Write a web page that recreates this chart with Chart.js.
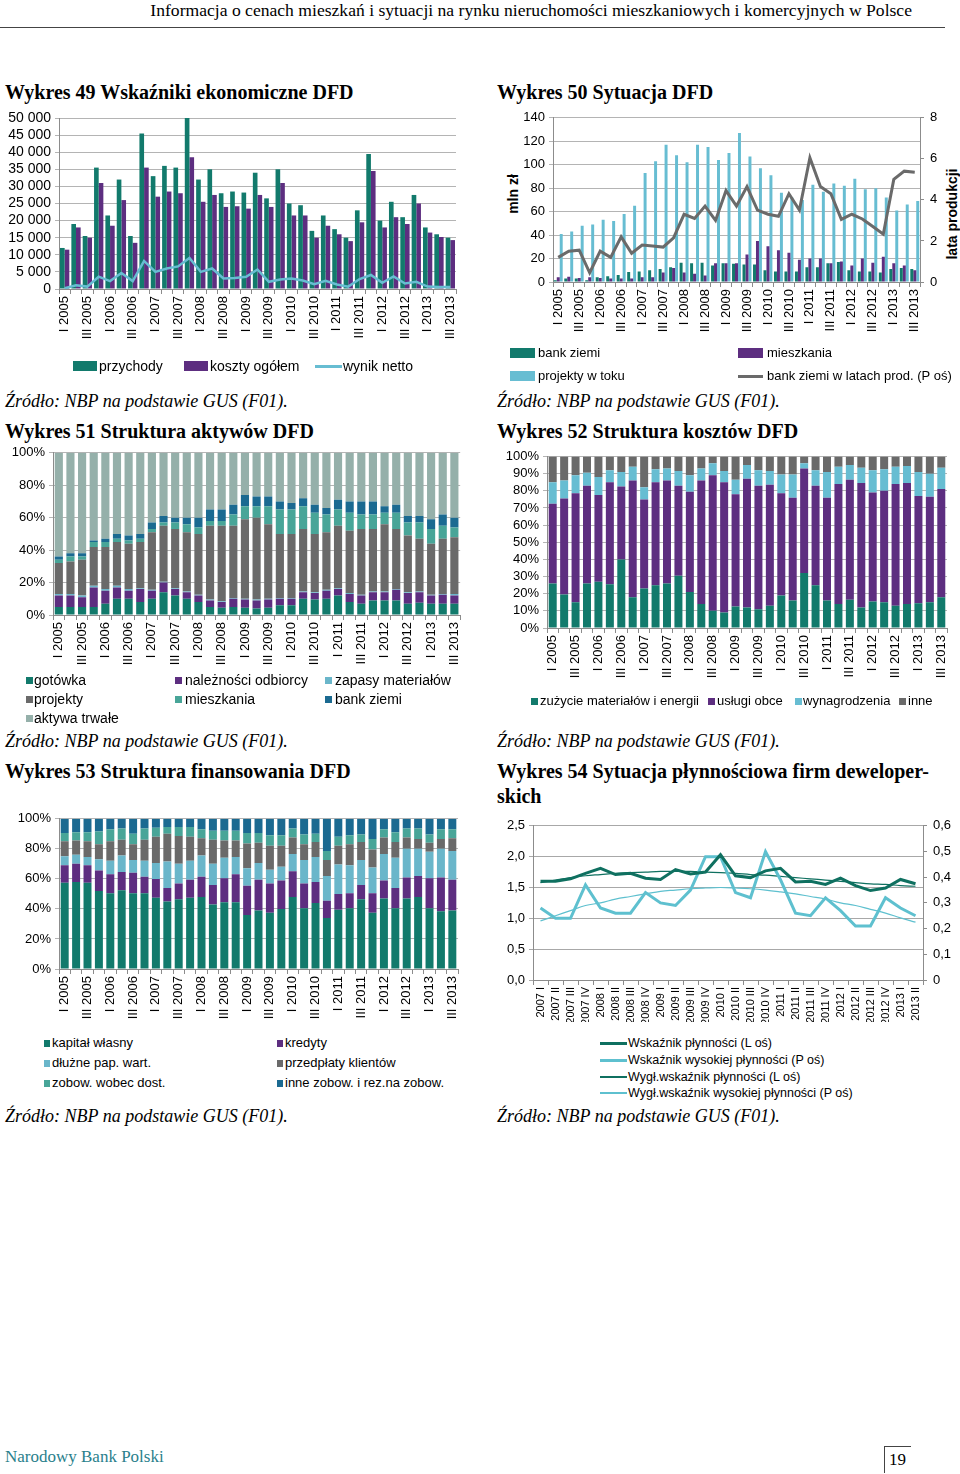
<!DOCTYPE html>
<html lang="pl">
<head>
<meta charset="utf-8">
<title>Wykresy DFD</title>
<script src="https://cdn.jsdelivr.net/npm/chart.js@4.4.1/dist/chart.umd.min.js"></script>
<style>
  body { margin: 0; background: #fff; }
  #page { position: relative; width: 960px; height: 1474px; overflow: hidden; font-family: 'Liberation Sans', Arial, sans-serif; color: #000; }
  .abs { position: absolute; white-space: nowrap; }
  .title { font-family: 'Liberation Serif', serif; font-weight: bold; font-size: 20px; line-height: 25px; }
  .src { font-family: 'Liberation Serif', serif; font-style: italic; font-size: 18px; line-height: 20px; }
  .axt { font-weight: bold; font-size: 14px; transform: rotate(-90deg); transform-origin: center; }
  canvas { position: absolute; }
  .lg { position: absolute; white-space: nowrap; }
  .box { position: absolute; }
</style>
</head>
<body>
<div id="page">
  <div class="abs" style="right:48px; top:0px; font-family:'Liberation Serif',serif; font-size:17.6px; line-height:20px;">Informacja o cenach mieszkań i sytuacji na rynku nieruchomości mieszkaniowych i komercyjnych w Polsce</div>
  <div class="box" style="left:0; top:27px; width:945px; border-top:1px solid #444;"></div>

  <div class="abs title" style="left:5px; top:80px;">Wykres 49 Wskaźniki ekonomiczne DFD</div>
  <div class="abs title" style="left:497px; top:80px;">Wykres 50 Sytuacja DFD</div>
  <div class="abs src" style="left:5px; top:391px;">Źródło: NBP na podstawie GUS (F01).</div>
  <div class="abs src" style="left:497px; top:391px;">Źródło: NBP na podstawie GUS (F01).</div>

  <div class="abs title" style="left:5px; top:419px;">Wykres 51 Struktura aktywów DFD</div>
  <div class="abs title" style="left:497px; top:419px;">Wykres 52 Struktura kosztów DFD</div>
  <div class="abs src" style="left:5px; top:731px;">Źródło: NBP na podstawie GUS (F01).</div>
  <div class="abs src" style="left:497px; top:731px;">Źródło: NBP na podstawie GUS (F01).</div>

  <div class="abs title" style="left:5px; top:759px;">Wykres 53 Struktura finansowania DFD</div>
  <div class="abs title" style="left:497px; top:759px;">Wykres 54 Sytuacja płynnościowa firm deweloper-<br>skich</div>
  <div class="abs src" style="left:5px; top:1106px;">Źródło: NBP na podstawie GUS (F01).</div>
  <div class="abs src" style="left:497px; top:1106px;">Źródło: NBP na podstawie GUS (F01).</div>

  <div class="abs axt" style="left:490px; top:186px; width:46px; text-align:center;">mln zł</div>
  <div class="abs axt" style="left:902px; top:206px; width:100px; text-align:center;">lata produkcji</div>

  <div class="abs" style="left:5px; top:1447px; font-family:'Liberation Serif',serif; font-size:17px; color:#2a7f8c;">Narodowy Bank Polski</div>
  <div class="box" style="left:884px; top:1446px; width:26px; height:26px; border-top:1px solid #444; border-left:1px solid #444;"></div>
  <div class="abs" style="left:889px; top:1450px; font-family:'Liberation Serif',serif; font-size:17px;">19</div>

  <canvas id="c49" width="468" height="239" style="left:0px; top:107px;"></canvas>
  <canvas id="c50" width="463" height="233" style="left:497px; top:104px;"></canvas>
  <canvas id="c51" width="472" height="226" style="left:0px; top:441px;"></canvas>
  <canvas id="c52" width="463" height="237" style="left:497px; top:446px;"></canvas>
  <canvas id="c53" width="470" height="217" style="left:0px; top:807px;"></canvas>
  <canvas id="c54" width="463" height="210" style="left:497px; top:812px;"></canvas>
</div>

<script>
// kwartały 2005-2013
const quarters = ['I 2005','II 2005','III 2005','IV 2005','I 2006','II 2006','III 2006','IV 2006',
  'I 2007','II 2007','III 2007','IV 2007','I 2008','II 2008','III 2008','IV 2008',
  'I 2009','II 2009','III 2009','IV 2009','I 2010','II 2010','III 2010','IV 2010',
  'I 2011','II 2011','III 2011','IV 2011','I 2012','II 2012','III 2012','IV 2012',
  'I 2013','II 2013','III 2013'];

// Wykres 49
const przychody = [12000,19000,15500,35500,21500,32000,15500,45500,33000,36000,35500,50000,32000,35000,28000,28500,28200,34000,26500,35000,25000,24500,17000,21500,17500,15000,23000,39500,20000,25500,21000,27500,18000,16000,15000];
const kosztyOgolem = [11500,18000,15000,31000,18500,26000,13500,35500,27000,28500,28000,38500,25500,27500,24000,24200,23500,27500,24000,31000,21500,21500,15000,18500,16000,14000,19500,34500,18000,21000,19000,25000,16500,15200,14300];
const wynikNetto = [200,1100,700,3600,2300,4700,2300,8200,5000,6000,6600,9100,5000,6000,3100,3200,3600,5700,2100,2800,3100,2500,1400,2400,1300,700,2900,4100,1800,3700,1600,2100,700,600,600];

// Wykres 50
const bankZiemi = [1.5,3,3,1.5,4,5,6,8.5,9,10,11,12.5,16.5,16,16.5,14,16,15.5,15,15,10,9,9,9,12.5,12.5,16,17,10,9,9,8,11,12,11];
const mieszkania = [4,4.5,3.5,4,3.5,3,3,3,4,4,8,12,8,7,5.5,16,16,16,23.5,35,30.5,27,25,19,20,20,16,17.5,14,20,16.5,21.5,16,14,10];
const projektyWToku = [41,43,48,49,53,52,58,65,93,103,117,108,102,117,115,104,110,127,107,97,91,76,72,70,83,77,84,82,88,79,80,72,61,66,69];
const bankZiemiLata = [1.2,1.5,1.55,0.45,1.5,1.2,2.2,1.4,1.8,1.75,1.7,2.15,3.3,3.1,3.7,3.0,4.45,3.7,4.65,3.5,3.3,3.2,4.3,3.5,6.05,4.65,4.3,3.05,3.3,3.07,2.7,2.33,5.0,5.4,5.35];

// Wykres 51 (%)
const gotowka = [5,5,5,5,7,10,10,8,10,14,12,10,8,5,4.5,5,4.5,4,4.5,6,6,10,9.5,10,12,8,7,9,9,9,7,7.5,7,7,7];
const naleznosci = [7,7,6,12,8,7,5,8,5,6,4,4,4,4,3.5,5,5,5,5,4,4,4,4,5,4,5,5,5,5,6.5,6.5,6.5,5,5.5,5];
const zapasy = [1,1,1,1,1,1,1,0.5,0.5,0.5,0.5,0.5,0.5,0.5,0.5,0.5,0.5,0.5,0.5,0.5,0.5,0.5,0.5,0.5,0.5,0.5,0.5,0.5,0.5,0.5,0.5,0.5,0.5,0.5,1];
const projekty = [19,20,22,24,26,27,28,28.5,35.5,34.5,36.5,36.5,37.5,45.5,46.5,44.5,49,50.5,46,39.5,39.5,38.5,36,35.5,38.5,38.5,40.5,38.5,41.5,37,35,32.5,31.5,34,35];
const mieszkaniaAkt = [2,3,2,3,3,2,2,2,2,2,4,5,4,3,3,7,8,7,11,15,15,14,13,11,10,11,9,9,7,10,8,10,9,8,6];
const bankZiemiAkt = [2,2,2,1,2,3,3,3,4,4,3,4,6,7,7,6,7,6,6,5,4,5,5,4,6,7,8,8,4,5,4,4,6,7,6];
const aktywaTrwale = [64,62,62,54,53,50,51,50,43,39,40,40,40,35,35,32,26,27,27,30,31,28,32,34,29,30,30,30,33,32,39,39,41,38,40];

// Wykres 52 (%)
const zuzycie = [26,19.5,15,26,27,25.5,40,18,23,25,26,30.5,21,14,10,9,12.5,12,11,13,19,16,32,25,16,14,16.5,12,15.5,15,13,14,14.5,15,18];
const uslugiObce = [46.5,56,63.5,57,50.5,59.5,42.5,68,52,60,60,52.5,58.5,72,79,76,65.5,75,72,70.5,59.5,60,61,58,60,70,70,72.5,63.5,65,71,70.5,62.5,61.5,63];
const wynagrodzenia = [12.5,10.5,10.5,7.5,10.5,7,8.5,8,7,7.5,7,8.5,9.5,7,7,6.5,8.5,8,9,8,11,13.5,3,9,15,10,8.5,9,13,12.5,10,10,14,13.5,12.5];
const inneKoszty = [15,14,11,9.5,12,8,9,6,18,7.5,7,8.5,11,7,4,8.5,13.5,5,8,8.5,10.5,10.5,4,8,9,6,5,6.5,8,7.5,6,5.5,9,10,6.5];

// Wykres 53 (%)
const kapitalWlasny = [57.5,58,57.5,52,50.5,52.5,50.5,50.5,47.5,45,46.5,47.5,48,43,44.5,44.5,36,39,37.5,40,48,40.5,44,34,39.5,40.5,46.5,37.5,47,40.5,47,48,40.5,38.5,39];
const kredyty = [11.5,12,11.5,13.5,12.5,12,13.5,11,12.5,9,10.5,12,13.5,13,16,18.5,19.5,20.5,19.5,19,17,16.5,14,11.5,10.5,10,9.5,13,12,13.5,14,14,20,22.5,20.5];
const dluznePap = [6,6,5.5,7.5,9,11,8.5,10.5,10.5,17.5,13,12.5,14,14,13.5,11.5,11.5,11,9,9,11.5,15.5,16.5,16.5,19.5,18.5,16.5,17,17.5,20,19,18,17.5,19,19];
const przedplaty = [10,9.5,10.5,10,13,10.5,10.5,14,17.5,18.5,18.5,16,11.5,16,11.5,11,16.5,13.5,16,14,11,10.5,10,10.5,12.5,14,12,12,11,10.5,7.5,6.5,6,6.5,8.5];
const zobowDost = [5.5,5.5,6,8.5,8,7.5,7,7.5,6,4.5,6,6.5,6,6,6.5,6.5,7,6.5,7,7,6,6.5,5.5,6,6,6,5,7,5.5,6.5,6,7,5.5,6.5,6];
const inneZobow = [9.5,9,9,8.5,7,6.5,10,6.5,6,5.5,5.5,5.5,7,8,8,8,9.5,9.5,11,11,6.5,10.5,10,21.5,12,11,10.5,13.5,7,9,6.5,6.5,10.5,7,7];

// Wykres 54
const kwartaly54 = ['2007 I','2007 II','2007 III','2007 IV','2008 I','2008 II','2008 III','2008 IV',
  '2009 I','2009 II','2009 III','2009 IV','2010 I','2010 II','2010 III','2010 IV',
  '2011 I','2011 II','2011 III','2011 IV','2012 I','2012 II','2012 III','2012 IV','2013 I','2013 II'];
const wskPlynnosci = [1.60,1.60,1.64,1.73,1.81,1.71,1.73,1.65,1.63,1.79,1.72,1.75,2.03,1.69,1.66,1.77,1.81,1.59,1.60,1.55,1.65,1.53,1.45,1.49,1.63,1.56];
const wskWysokiej = [0.28,0.24,0.24,0.37,0.28,0.26,0.26,0.34,0.30,0.29,0.35,0.48,0.48,0.34,0.32,0.50,0.39,0.26,0.25,0.32,0.27,0.21,0.21,0.32,0.28,0.25];
const wyglPlynnosci = [1.58,1.62,1.66,1.69,1.71,1.73,1.74,1.75,1.76,1.76,1.76,1.75,1.74,1.73,1.71,1.70,1.68,1.66,1.64,1.62,1.60,1.58,1.56,1.55,1.53,1.52];
const wyglWysokiej = [0.23,0.25,0.27,0.29,0.30,0.315,0.325,0.335,0.345,0.35,0.355,0.358,0.36,0.358,0.355,0.35,0.343,0.335,0.325,0.315,0.30,0.29,0.275,0.26,0.242,0.225];

const TEAL = '#127a6c';
const PURPLE = '#5d2e80';
const LBLUE = '#67bdd2';
const GREY = '#6a6a6a';
const GRID = '#b4b4b4';

Chart.defaults.font.family = "'Liberation Sans', Arial, sans-serif";
Chart.defaults.font.size = 13;
Chart.defaults.color = '#000';
Chart.defaults.animation = false;
Chart.defaults.responsive = false;
Chart.defaults.plugins.legend.display = false;
Chart.defaults.plugins.tooltip.enabled = false;

function fixW(w) { return function (s) { s.width = w; }; }
function fixH(h) { return function (s) { s.height = h; }; }

function quarterAxis(h) {
  return {
    stacked: true,
    grid: { drawOnChartArea: false, offset: true, tickLength: 5, color: '#8c8c8c' },
    border: { color: '#8c8c8c' },
    ticks: { autoSkip: false, minRotation: 90, maxRotation: 90, padding: 2,
      callback: function (v) { return v % 2 === 0 ? quarters[v] : ''; } },
    afterFit: fixH(h)
  };
}

function pctAxis(w, step) {
  return {
    stacked: true, min: 0, max: 100,
    grid: { color: GRID, tickLength: 4 },
    border: { color: '#8c8c8c' },
    ticks: { stepSize: step, padding: 4, autoSkip: false, callback: function (v) { return v + '%'; } },
    afterFit: fixW(w)
  };
}

function bar(label, data, color, extra) {
  return Object.assign({ type: 'bar', label: label, data: data, backgroundColor: color,
    categoryPercentage: 0.7, barPercentage: 1, order: 1 }, extra || {});
}

const page = document.getElementById('page');
function legend(x, y, mw, mh, color, text, tx, size) {
  const m = document.createElement('div');
  m.className = 'box';
  m.style.cssText = 'left:' + x + 'px;top:' + (y - mh / 2) + 'px;width:' + mw + 'px;height:' + mh + 'px;background:' + color;
  page.appendChild(m);
  const t = document.createElement('div');
  t.className = 'lg';
  t.style.cssText = 'left:' + tx + 'px;top:' + (y - size * 0.6) + 'px;font-size:' + size + 'px;line-height:' + (size * 1.2) + 'px';
  t.textContent = text;
  page.appendChild(t);
}

// ---- Wykres 49
new Chart(document.getElementById('c49'), {
  data: {
    labels: quarters,
    datasets: [
      { type: 'line', label: 'wynik netto', data: wynikNetto, borderColor: LBLUE, borderWidth: 2.5, pointRadius: 0, tension: 0, order: 0 },
      bar('przychody', przychody, TEAL, { categoryPercentage: 0.82 }),
      bar('koszty ogółem', kosztyOgolem, PURPLE, { categoryPercentage: 0.82 })
    ]
  },
  options: {
    layout: { padding: { right: 5 } },
    scales: {
      x: Object.assign(quarterAxis(57), { stacked: false }),
      y: { min: 0, max: 50000, grid: { color: GRID, tickLength: 4 }, border: { color: '#8c8c8c' },
        ticks: { stepSize: 5000, autoSkip: false, font: { size: 14, lineHeight: 1 }, padding: 4,
          callback: function (v) { return String(v).replace(/\B(?=(\d{3})+(?!\d))/g, ' '); } },
        afterFit: fixW(59) }
    }
  }
});
legend(73, 366, 24, 10, TEAL, 'przychody', 99, 14);
legend(184, 366, 24, 10, PURPLE, 'koszty ogółem', 210, 14);
legend(315, 366, 27, 3, LBLUE, 'wynik netto', 343, 14);

// ---- Wykres 50
new Chart(document.getElementById('c50'), {
  data: {
    labels: quarters,
    datasets: [
      { type: 'line', label: 'bank ziemi w latach prod. (P oś)', data: bankZiemiLata, yAxisID: 'y2', borderColor: GREY, borderWidth: 3, pointRadius: 0, tension: 0, order: 0 },
      bar('bank ziemi', bankZiemi, TEAL, { categoryPercentage: 0.85 }),
      bar('mieszkania', mieszkania, PURPLE, { categoryPercentage: 0.85 }),
      bar('projekty w toku', projektyWToku, LBLUE, { categoryPercentage: 0.85 })
    ]
  },
  options: {
    scales: {
      x: Object.assign(quarterAxis(55), { stacked: false }),
      y: { min: 0, max: 140, grid: { color: GRID, tickLength: 4 }, border: { color: '#8c8c8c' },
        ticks: { stepSize: 20, padding: 4, autoSkip: false }, afterFit: fixW(56) },
      y2: { position: 'right', min: 0, max: 8, grid: { drawOnChartArea: false, tickLength: 4, color: '#8c8c8c' }, border: { color: '#8c8c8c' },
        ticks: { stepSize: 2, padding: 6, autoSkip: false }, afterFit: fixW(40) }
    }
  }
});
legend(510, 353, 25, 10, TEAL, 'bank ziemi', 538, 13);
legend(738, 353, 25, 10, PURPLE, 'mieszkania', 767, 13);
legend(510, 376, 25, 10, LBLUE, 'projekty w toku', 538, 13);
legend(738, 376, 25, 3, GREY, 'bank ziemi w latach prod. (P oś)', 767, 13);

// ---- Wykres 51
const c51 = [
  ['gotówka', gotowka, TEAL],
  ['należności odbiorcy', naleznosci, PURPLE],
  ['zapasy materiałów', zapasy, '#6ab6ca'],
  ['projekty', projekty, GREY],
  ['mieszkania', mieszkaniaAkt, '#48a598'],
  ['bank ziemi', bankZiemiAkt, '#1b6a91'],
  ['aktywa trwałe', aktywaTrwale, '#95b0aa']
];
new Chart(document.getElementById('c51'), {
  type: 'bar',
  data: { labels: quarters, datasets: c51.map(function (d) { return bar(d[0], d[1], d[2]); }) },
  options: {
    layout: { padding: { right: 2 } },
    scales: { x: quarterAxis(52), y: pctAxis(53, 20) }
  }
});
legend(26, 680, 7, 7, c51[0][2], c51[0][0], 34, 14);
legend(175, 680, 7, 7, c51[1][2], c51[1][0], 185, 14);
legend(325, 680, 7, 7, c51[2][2], c51[2][0], 335, 14);
legend(26, 699, 7, 7, c51[3][2], c51[3][0], 34, 14);
legend(175, 699, 7, 7, c51[4][2], c51[4][0], 185, 14);
legend(325, 699, 7, 7, c51[5][2], c51[5][0], 335, 14);
legend(26, 718, 7, 7, c51[6][2], c51[6][0], 34, 14);

// ---- Wykres 52
const c52 = [
  ['zużycie materiałów i energii', zuzycie, TEAL],
  ['usługi obce', uslugiObce, PURPLE],
  ['wynagrodzenia', wynagrodzenia, LBLUE],
  ['inne', inneKoszty, GREY]
];
new Chart(document.getElementById('c52'), {
  type: 'bar',
  data: { labels: quarters, datasets: c52.map(function (d) { return bar(d[0], d[1], d[2]); }) },
  options: {
    layout: { padding: { right: 13 } },
    scales: { x: quarterAxis(55), y: Object.assign(pctAxis(50, 10), { ticks: { stepSize: 10, padding: 4, autoSkip: false, font: { lineHeight: 1 }, callback: function (v) { return v + '%'; } } }) }
  }
});
legend(531, 701, 7, 7, c52[0][2], c52[0][0], 540, 13);
legend(708, 701, 7, 7, c52[1][2], c52[1][0], 717, 13);
legend(795, 701, 7, 7, c52[2][2], c52[2][0], 803, 13);
legend(899, 701, 7, 7, c52[3][2], c52[3][0], 908, 13);

// ---- Wykres 53
const c53 = [
  ['kapitał własny', kapitalWlasny, TEAL],
  ['kredyty', kredyty, PURPLE],
  ['dłużne pap. wart.', dluznePap, '#6ab6ca'],
  ['przedpłaty klientów', przedplaty, GREY],
  ['zobow. wobec dost.', zobowDost, '#48a598'],
  ['inne zobow. i rez.na zobow.', inneZobow, '#1b6a91']
];
new Chart(document.getElementById('c53'), {
  type: 'bar',
  data: { labels: quarters, datasets: c53.map(function (d) { return bar(d[0], d[1], d[2]); }) },
  options: {
    layout: { padding: { right: 5 } },
    scales: { x: quarterAxis(55), y: pctAxis(59, 20) }
  }
});
legend(44, 1043, 6, 7, c53[0][2], c53[0][0], 52, 13);
legend(277, 1043, 6, 7, c53[1][2], c53[1][0], 285, 13);
legend(44, 1063, 6, 7, c53[2][2], c53[2][0], 52, 13);
legend(277, 1063, 6, 7, c53[3][2], c53[3][0], 285, 13);
legend(44, 1083, 6, 7, c53[4][2], c53[4][0], 52, 13);
legend(277, 1083, 6, 7, c53[5][2], c53[5][0], 285, 13);

// ---- Wykres 54
const DTEAL = '#0f7060';
const L54 = '#5ec0cf';
new Chart(document.getElementById('c54'), {
  type: 'line',
  data: {
    labels: kwartaly54,
    datasets: [
      { label: 'Wskaźnik płynności (L oś)', data: wskPlynnosci, yAxisID: 'y', borderColor: DTEAL, borderWidth: 3, pointRadius: 0, tension: 0 },
      { label: 'Wskaźnik wysokiej płynności (P oś)', data: wskWysokiej, yAxisID: 'y2', borderColor: L54, borderWidth: 3, pointRadius: 0, tension: 0 },
      { label: 'Wygł.wskaźnik płynności (L oś)', data: wyglPlynnosci, yAxisID: 'y', borderColor: DTEAL, borderWidth: 1.2, pointRadius: 0, tension: 0.4 },
      { label: 'Wygł.wskaźnik wysokiej płynności (P oś)', data: wyglWysokiej, yAxisID: 'y2', borderColor: L54, borderWidth: 1.2, pointRadius: 0, tension: 0.4 }
    ]
  },
  options: {
    scales: {
      x: { offset: true, grid: { drawOnChartArea: false, offset: true, tickLength: 5, color: '#8c8c8c' }, border: { color: '#8c8c8c' },
        ticks: { autoSkip: false, minRotation: 90, maxRotation: 90, padding: 2, font: { size: 11 } }, afterFit: fixH(42) },
      y: { min: 0, max: 2.5, grid: { color: '#a8a8a8', tickLength: 4 }, border: { color: '#8c8c8c' },
        ticks: { stepSize: 0.5, padding: 4, autoSkip: false, callback: function (v) { return v.toFixed(1).replace('.', ','); } }, afterFit: fixW(36) },
      y2: { position: 'right', min: 0, max: 0.6, grid: { drawOnChartArea: false, tickLength: 4, color: '#8c8c8c' }, border: { color: '#8c8c8c' },
        ticks: { stepSize: 0.1, padding: 6, autoSkip: false, callback: function (v) { return v === 0 ? '0' : v.toFixed(1).replace('.', ','); } }, afterFit: fixW(37) }
    }
  }
});
legend(600, 1043, 27, 3, DTEAL, 'Wskaźnik płynności (L oś)', 628, 12.5);
legend(600, 1060, 27, 3, L54, 'Wskaźnik wysokiej płynności (P oś)', 628, 12.5);
legend(600, 1077, 27, 1.5, DTEAL, 'Wygł.wskaźnik płynności (L oś)', 628, 12.5);
legend(600, 1093, 27, 1.5, L54, 'Wygł.wskaźnik wysokiej płynności (P oś)', 628, 12.5);
</script>
</body>
</html>
